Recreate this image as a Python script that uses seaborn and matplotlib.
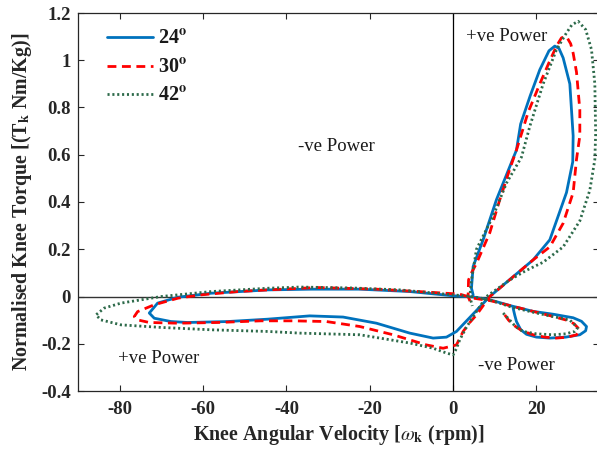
import numpy as np
import pandas as pd
import matplotlib
matplotlib.use("Agg")
import matplotlib.pyplot as plt
import seaborn as sns

# Knee angular velocity (rpm) and normalised knee torque (Nm/kg) over one cycle
vel_24 = [14.4, 14.8, 15.2, 16.2, 17.6, 20.0, 23.2, 27.0, 30.4, 31.8, 32.0, 30.8, 28.8, 24.0,
          19.2, 14.0, 8.8, 4.8, 0.0, -10.4, -22.4, -34.0, -44.4, -52.0, -58.0, -66.0, -70.9,
          -72.9, -71.7, -67.7, -63.7, -54.1, -44.5, -34.4, -26.4, -18.4, -10.4, -4.8, -1.6,
          0.8, 4.8, 8.8, 13.6, 19.2, 23.2, 24.4, 27.2, 28.7, 28.8, 28.4, 28.0, 26.4, 25.4,
          24.4, 23.0, 20.8, 18.5, 16.2, 15.2, 10.4, 7.2, 4.8, 4.4, 4.8]
trq_24 = [-0.050, -0.080, -0.106, -0.140, -0.160, -0.172, -0.176, -0.172, -0.162, -0.145,
          -0.127, -0.105, -0.090, -0.075, -0.063, -0.040, -0.014, -0.002, 0.003, 0.021,
          0.031, 0.031, 0.028, 0.020, 0.014, -0.003, -0.028, -0.070, -0.092, -0.106, -0.110,
          -0.106, -0.096, -0.082, -0.087, -0.113, -0.155, -0.176, -0.172, -0.148, -0.074,
          0.000, 0.072, 0.155, 0.240, 0.300, 0.440, 0.570, 0.680, 0.790, 0.900, 1.010, 1.050,
          1.060, 1.040, 0.960, 0.850, 0.730, 0.620, 0.410, 0.240, 0.127, 0.035, 0.007]

vel_30 = [12.4, 13.3, 14.4, 16.5, 19.2, 22.0, 24.8, 27.5, 29.6, 30.2, 30.0, 29.0, 27.2, 23.0,
          19.2, 14.0, 9.0, 4.8, 1.6, -6.4, -18.4, -32.8, -44.4, -51.6, -60.5, -66.0, -71.7,
          -75.7, -76.5, -75.7, -72.9, -66.0, -56.5, -46.1, -38.4, -30.4, -22.4, -14.4, -6.4,
          -2.4, 0.8, 2.4, 4.0, 5.6, 8.8, 14.0, 19.2, 23.2, 26.4, 28.8, 29.6, 30.4, 30.4,
          29.6, 28.8, 28.2, 27.2, 26.0, 24.8, 23.0, 20.8, 18.0, 15.2, 13.6, 11.2, 8.8, 5.6,
          4.4, 3.7, 3.6, 4.4]
trq_30 = [-0.078, -0.100, -0.120, -0.145, -0.162, -0.172, -0.176, -0.172, -0.162, -0.148,
          -0.134, -0.115, -0.100, -0.080, -0.063, -0.040, -0.018, -0.007, 0.010, 0.019,
          0.031, 0.038, 0.028, 0.021, 0.007, -0.007, -0.035, -0.064, -0.085, -0.099, -0.110,
          -0.113, -0.110, -0.103, -0.103, -0.106, -0.127, -0.162, -0.205, -0.219, -0.205,
          -0.148, -0.110, -0.078, 0.000, 0.077, 0.155, 0.210, 0.310, 0.440, 0.580, 0.680,
          0.790, 0.950, 1.030, 1.070, 1.100, 1.095, 1.060, 0.990, 0.900, 0.780, 0.620, 0.540,
          0.410, 0.270, 0.140, 0.100, 0.070, 0.000, -0.035]

vel_42 = [12.0, 12.8, 13.6, 15.0, 16.8, 20.0, 24.0, 27.0, 29.2, 29.8, 29.6, 28.0, 24.0, 20.0,
          14.0, 8.8, 4.5, 0.0, -12.8, -24.0, -36.8, -44.4, -58.0, -70.0, -79.7, -83.7, -85.7,
          -84.5, -79.7, -70.0, -58.0, -44.4, -36.8, -22.4, -10.4, -4.8, -1.5, 0.0, 0.8, 1.6,
          3.2, 4.8, 6.5, 8.0, 10.8, 13.6, 17.5, 21.6, 26.4, 30.4, 32.8, 34.0, 34.2, 34.0,
          33.2, 31.8, 30.0, 28.5, 27.2, 24.8, 21.6, 18.4, 16.4, 12.8, 9.6, 5.6, 5.2, 4.4,
          4.0, 4.6]
trq_42 = [-0.070, -0.085, -0.100, -0.128, -0.148, -0.158, -0.162, -0.158, -0.148, -0.135,
          -0.127, -0.100, -0.085, -0.070, -0.045, -0.014, 0.000, 0.007, 0.028, 0.036, 0.040,
          0.035, 0.021, 0.000, -0.028, -0.049, -0.078, -0.099, -0.120, -0.131, -0.141,
          -0.148, -0.155, -0.162, -0.197, -0.219, -0.240, -0.247, -0.220, -0.183, -0.130,
          -0.085, -0.040, 0.000, 0.035, 0.070, 0.110, 0.145, 0.210, 0.320, 0.450, 0.580,
          0.690, 0.900, 1.045, 1.130, 1.165, 1.150, 1.116, 1.045, 0.900, 0.720, 0.590, 0.480,
          0.340, 0.200, 0.155, 0.070, 0.000, -0.040]

labels = ["24", "30", "42"]
x_ticks = [-80, -60, -40, -20, 0, 20]
x_ticklabels = ["-80", "-60", "-40", "-20", "0", "20"]
y_ticks = [-0.4, -0.2, 0, 0.2, 0.4, 0.6, 0.8, 1.0, 1.2]
y_ticklabels = ["-0.4", "-0.2", "0", "0.2", "0.4", "0.6", "0.8", "1", "1.2"]

sns.set_theme(style="ticks")
plt.rcParams["font.family"] = ["Liberation Serif", "DejaVu Serif"]
plt.rcParams["mathtext.fontset"] = "stix"
plt.rcParams["axes.unicode_minus"] = False
plt.rcParams["xtick.direction"] = "in"
plt.rcParams["ytick.direction"] = "in"

fig = plt.figure(figsize=(5.97, 4.49), dpi=100)
ax = fig.add_axes([78 / 597, 58 / 449, 521 / 597, 378 / 449])

ax.axhline(0, color="#333333", lw=1.0, zorder=1)
ax.axvline(0, color="black", lw=0.9, zorder=1)

series = [
    (vel_24, trq_24, "#0072BD", "-", labels[0]),
    (vel_30, trq_30, "#FF0000", (0, (3.2, 2.0)), labels[1]),
    (vel_42, trq_42, "#2D6A4A", (0, (0.75, 1.0)), labels[2]),
]
for vel, trq, col, ls, lab in series:
    df = pd.DataFrame({"vel": vel, "trq": trq})
    sns.lineplot(data=df, x="vel", y="trq", sort=False, estimator=None, ax=ax,
                 color=col, linestyle=ls, lw=2.0, zorder=3,
                 label=lab + r"$^{\mathbf{o}}$")

ax.set_xlim(-90, 35)
ax.set_ylim(-0.4, 1.2)
ax.set_xticks(x_ticks)
ax.set_xticklabels(x_ticklabels)
ax.set_yticks(y_ticks)
ax.set_yticklabels(y_ticklabels)
ax.tick_params(axis="both", which="both", top=True, right=True, length=4,
               width=0.8, labelsize=13.5, colors="#262626")
ax.tick_params(axis="y", pad=5)
ax.tick_params(axis="x", pad=7)
for lbl in ax.get_xticklabels() + ax.get_yticklabels():
    lbl.set_fontweight("bold")
for sp in ax.spines.values():
    sp.set_linewidth(0.9)
    sp.set_color("#262626")

ax.set_xlabel(r"Knee Angular Velocity [$\omega_{\mathbf{k}}$ (rpm)]", fontsize=14.4,
              fontweight="bold", color="#262626", labelpad=4)
ax.set_ylabel(r"Normalised Knee Torque [(T$_{\mathbf{k}}$ Nm/Kg)]", fontsize=14.4,
              fontweight="bold", color="#262626", labelpad=5)

txt = dict(fontsize=13.5, color="#1a1a1a")
ax.text(3.2, 1.10, "+ve Power", ha="left", va="center", **txt)
ax.text(-28.0, 0.635, "-ve Power", ha="center", va="center", **txt)
ax.text(-80.5, -0.262, "+ve Power", ha="left", va="center", **txt)
ax.text(6.0, -0.29, "-ve Power", ha="left", va="center", **txt)

leg = ax.legend(loc="upper left", bbox_to_anchor=(0.02, 1.005), frameon=False,
                handlelength=2.3, fontsize=14.5, labelspacing=0.42, handletextpad=0.25)
for t in leg.get_texts():
    t.set_fontweight("bold")
    t.set_color("#1a1a1a")

fig.savefig("out.png", dpi=100)
